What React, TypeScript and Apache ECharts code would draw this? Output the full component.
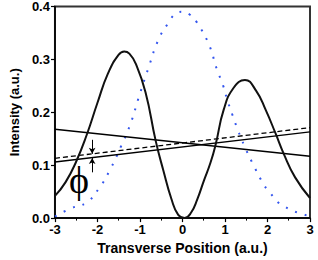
import React, { useEffect, useRef } from "react";
import * as echarts from "echarts";

const xTicks = [-3, -2, -1, 0, 1, 2, 3];
const yTicks = [0, 0.1, 0.2, 0.3, 0.4];

const solidCurve: [number, number][] = [
  [-3, 0.042], [-2.75, 0.068], [-2.5, 0.107], [-2.25, 0.158], [-2.0, 0.218],
  [-1.75, 0.274], [-1.5, 0.309], [-1.37, 0.315], [-1.25, 0.311], [-1.1, 0.292],
  [-0.87, 0.238], [-0.63, 0.146], [-0.45, 0.09], [-0.26, 0.036], [-0.1, 0.006],
  [0.05, 0.0], [0.2, 0.01], [0.35, 0.036], [0.5, 0.07], [0.66, 0.105],
  [0.78, 0.139], [0.97, 0.205], [1.2, 0.246], [1.47, 0.261], [1.73, 0.241],
  [1.96, 0.204], [2.19, 0.16], [2.38, 0.122], [2.65, 0.077], [3, 0.038],
];

const gaussCurve: [number, number][] = [
  [-3, 0.003], [-2.64, 0.018], [-2.25, 0.03], [-1.95, 0.058], [-1.72, 0.089],
  [-1.45, 0.135], [-1.22, 0.179], [-1.03, 0.228], [-0.8, 0.284], [-0.567, 0.337],
  [-0.34, 0.368], [-0.146, 0.387], [0.008, 0.39], [0.185, 0.384], [0.338, 0.37],
  [0.622, 0.328], [0.81, 0.281], [0.95, 0.252], [1.06, 0.222], [1.18, 0.194],
  [1.3, 0.167], [1.465, 0.135], [1.64, 0.105], [1.93, 0.061], [2.08, 0.046],
  [2.23, 0.031], [2.42, 0.021], [2.62, 0.013], [2.81, 0.008], [3, 0.003],
];

const fallingLine: [number, number][] = [[-3, 0.168], [3, 0.117]];
const risingLine: [number, number][] = [[-3, 0.106], [3, 0.163]];
const dashedLine: [number, number][] = [[-3, 0.113], [3, 0.171]];

const arrowX = -2.125;
const arrowDown: [number, number] = [0.148, 0.1215];
const arrowUp: [number, number] = [0.0865, 0.1135];

const FONT = "Liberation Sans, Arial, sans-serif";

export default function App() {
  const ref = useRef<HTMLDivElement>(null);
  useEffect(() => {
    if (!ref.current) return;
    const chart = echarts.init(ref.current, undefined, { renderer: "svg" });
    chart.setOption({
      animation: false,
      backgroundColor: "#fff",
      grid: {
        left: 49,
        right: 8,
        top: 5,
        bottom: 40.5,
        show: true,
        borderColor: "#333",
        borderWidth: 2,
        backgroundColor: "transparent",
      },
      xAxis: {
        type: "value",
        min: xTicks[0],
        max: xTicks[xTicks.length - 1],
        interval: 1,
        name: "Transverse Position (a.u.)",
        nameLocation: "middle",
        nameGap: 21,
        nameTextStyle: { fontFamily: FONT, fontWeight: "bold", fontSize: 14, color: "#000" },
        axisLine: { show: true, onZero: false, lineStyle: { color: "#000", width: 1.5 } },
        axisTick: { show: true, inside: false, length: 4, lineStyle: { color: "#000", width: 1.2 } },
        minorTick: { show: true, splitNumber: 2, length: 2.5, lineStyle: { color: "#000", width: 1 } },
        axisLabel: {
          margin: 5,
          fontFamily: FONT,
          fontWeight: "bold",
          fontSize: 13,
          color: "#000",
          formatter: (v: number) => String(v),
        },
        splitLine: { show: false },
      },
      yAxis: {
        type: "value",
        min: yTicks[0],
        max: yTicks[yTicks.length - 1],
        interval: 0.1,
        name: "Intensity (a.u.)",
        nameLocation: "middle",
        nameGap: 30,
        nameTextStyle: { fontFamily: FONT, fontWeight: "bold", fontSize: 13, color: "#000" },
        axisLine: { show: true, onZero: false, lineStyle: { color: "#000", width: 1.5 } },
        axisTick: { show: true, inside: false, length: 4, lineStyle: { color: "#000", width: 1.2 } },
        axisLabel: {
          margin: 5,
          fontFamily: FONT,
          fontWeight: "bold",
          fontSize: 13,
          color: "#000",
          formatter: (v: number) => v.toFixed(1),
        },
        splitLine: { show: false },
      },
      series: [
        {
          type: "line",
          data: gaussCurve,
          smooth: true,
          showSymbol: false,
          lineStyle: { color: "#3355ee", width: 2, type: [2, 8] },
          z: 2,
        },
        {
          type: "line",
          data: fallingLine,
          showSymbol: false,
          lineStyle: { color: "#000", width: 1.5 },
        },
        {
          type: "line",
          data: risingLine,
          showSymbol: false,
          lineStyle: { color: "#000", width: 1.5 },
        },
        {
          type: "line",
          data: dashedLine,
          showSymbol: false,
          lineStyle: { color: "#000", width: 1.3, type: [5, 3] },
          markLine: {
            silent: true,
            symbol: ["none", "arrow"],
            symbolSize: [5, 6],
            label: { show: false },
            lineStyle: { color: "#000", width: 1, type: "solid" },
            data: [
              [{ coord: [arrowX, arrowDown[0]] }, { coord: [arrowX, arrowDown[1]] }],
              [{ coord: [arrowX, arrowUp[0]] }, { coord: [arrowX, arrowUp[1]] }],
            ],
          },
        },
        {
          type: "line",
          data: solidCurve,
          smooth: true,
          showSymbol: false,
          lineStyle: { color: "#111", width: 2 },
          z: 3,
        },
      ],
      graphic: [
        {
          type: "text",
          x: 79,
          y: 180,
          style: {
            text: "\u03D5",
            font: "38px 'Liberation Serif', 'DejaVu Serif', serif",
            fill: "#000",
            align: "center",
            verticalAlign: "middle",
          },
        },
      ],
    });
    return () => chart.dispose();
  }, []);
  return (
    <div
      ref={ref}
      style={{ position: "absolute", left: 0, top: 0, width: 318, height: 260 }}
    />
  );
}
